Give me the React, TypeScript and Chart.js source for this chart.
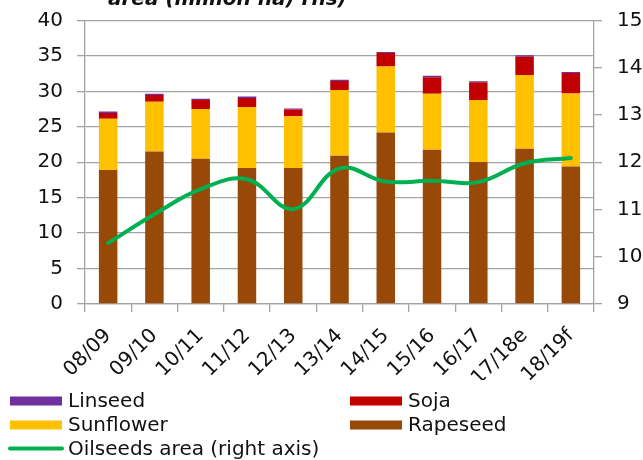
import { useEffect, useRef } from 'react';
import { Chart, registerables } from 'chart.js';

Chart.register(...registerables);

// Marketing years
const seasons = ['08/09', '09/10', '10/11', '11/12', '12/13', '13/14', '14/15', '15/16', '16/17', '17/18e', '18/19f'];

// Oilseed production by crop (million t), stacked bottom to top
const rapeseed = [18.9, 21.5, 20.5, 19.2, 19.2, 20.9, 24.2, 21.75, 20.05, 21.9, 19.4];
const sunflower = [7.25, 7.05, 7.0, 8.6, 7.3, 9.3, 9.3, 7.9, 8.75, 10.4, 10.3];
const soja = [0.8, 0.95, 1.3, 1.27, 0.95, 1.25, 1.9, 2.36, 2.5, 2.6, 2.9];
const linseed = [0.2, 0.18, 0.15, 0.19, 0.14, 0.19, 0.15, 0.18, 0.14, 0.2, 0.15];

// Total oilseeds area (million ha), right axis
const oilseedsArea = [10.29, 10.9, 11.43, 11.64, 11.01, 11.87, 11.59, 11.61, 11.58, 11.98, 12.09];

const titleText = 'area (million ha) rhs)';

const FONT = '"DejaVu Sans", Verdana, sans-serif';
const TEXT = '#111111';
const GRID = '#a3a3a3';

const COLORS = {
  rapeseed: '#984807',
  sunflower: '#ffc000',
  soja: '#c00000',
  linseed: '#7030a0',
  area: '#00b050',
};

// Partially clipped title line at the very top of the canvas
const titlePlugin = {
  id: 'topTitle',
  afterDraw(chart: any) {
    const ctx = chart.ctx;
    ctx.save();
    ctx.font = `italic bold 20px ${FONT}`;
    ctx.fillStyle = TEXT;
    ctx.textAlign = 'left';
    ctx.textBaseline = 'alphabetic';
    ctx.fillText(titleText, 108, 5);
    ctx.restore();
  },
};

// Two-column legend under the x axis
const legendPlugin = {
  id: 'gridLegend',
  afterDraw(chart: any) {
    const ctx = chart.ctx;
    const ds = chart.data.datasets;
    const byLabel = (l: string) => ds.find((d: any) => d.label === l);
    const items = [
      { d: byLabel('Linseed'), x: 10, y: 401, kind: 'box' },
      { d: byLabel('Soja'), x: 350, y: 401, kind: 'box' },
      { d: byLabel('Sunflower'), x: 10, y: 425, kind: 'box' },
      { d: byLabel('Rapeseed'), x: 350, y: 425, kind: 'box' },
      { d: byLabel('Oilseeds area (right axis)'), x: 10, y: 448.5, kind: 'line' },
    ];
    ctx.save();
    ctx.font = `20px ${FONT}`;
    ctx.textAlign = 'left';
    ctx.textBaseline = 'middle';
    for (const it of items) {
      if (!it.d) continue;
      if (it.kind === 'box') {
        ctx.fillStyle = it.d.backgroundColor;
        ctx.fillRect(it.x, it.y - 4.5, 52, 9);
      } else {
        ctx.strokeStyle = it.d.borderColor;
        ctx.lineWidth = 4;
        ctx.lineCap = 'round';
        ctx.beginPath();
        ctx.moveTo(it.x, it.y);
        ctx.lineTo(it.x + 52, it.y);
        ctx.stroke();
      }
      ctx.fillStyle = TEXT;
      ctx.fillText(it.d.label, it.x + 58, it.y + 1);
    }
    ctx.restore();
  },
};

// Fixed axis widths; drop the label overhang so the plot top sits at the padding
const fixWidth = (w: number) => (s: any) => {
  s.width = w;
  s.paddingTop = 0;
  s.paddingBottom = 0;
};

export default function App() {
  const ref = useRef<HTMLCanvasElement | null>(null);

  useEffect(() => {
    if (!ref.current) return;
    const tickFont = { family: FONT, size: 20 };
    const chart = new Chart(ref.current, {
      type: 'bar',
      data: {
        labels: seasons,
        datasets: [
          {
            type: 'line',
            label: 'Oilseeds area (right axis)',
            data: oilseedsArea,
            yAxisID: 'y2',
            borderColor: COLORS.area,
            backgroundColor: COLORS.area,
            borderWidth: 4,
            pointRadius: 0,
            tension: 0.4,
            borderCapStyle: 'round',
            order: 0,
          } as any,
          { label: 'Rapeseed', data: rapeseed, backgroundColor: COLORS.rapeseed, yAxisID: 'y', order: 1 },
          { label: 'Sunflower', data: sunflower, backgroundColor: COLORS.sunflower, yAxisID: 'y', order: 1 },
          { label: 'Soja', data: soja, backgroundColor: COLORS.soja, yAxisID: 'y', order: 1 },
          { label: 'Linseed', data: linseed, backgroundColor: COLORS.linseed, yAxisID: 'y', order: 1 },
        ],
      },
      options: {
        responsive: false,
        animation: false,
        devicePixelRatio: 1,
        layout: { padding: { top: 20.5, left: 0, right: 0, bottom: 80 } },
        datasets: { bar: { categoryPercentage: 1, barPercentage: 0.4 } },
        plugins: {
          legend: { display: false },
          title: { display: false },
          tooltip: { enabled: false },
        },
        scales: {
          x: {
            stacked: true,
            grid: { offset: true, drawOnChartArea: false, drawTicks: true, tickLength: 8, color: GRID, lineWidth: 1.3 },
            border: { color: GRID, width: 1.3 },
            ticks: { minRotation: 45, maxRotation: 45, autoSkip: false, font: tickFont, color: TEXT, padding: 12 },
            afterFit: (s: any) => { s.height = 76; },
          },
          y: {
            stacked: true,
            position: 'left',
            min: 0,
            max: 40,
            ticks: { stepSize: 5, font: tickFont, color: TEXT, padding: 14 },
            grid: { color: GRID, lineWidth: 1.3, tickLength: 8 },
            border: { color: GRID, width: 1.3 },
            afterFit: fixWidth(85),
          },
          y2: {
            position: 'right',
            min: 9,
            max: 15,
            ticks: { stepSize: 1, font: tickFont, color: TEXT, padding: 15 },
            grid: { drawOnChartArea: false, color: GRID, lineWidth: 1.3, tickLength: 8 },
            border: { color: GRID, width: 1.3 },
            afterFit: fixWidth(49),
          },
        },
      } as any,
      plugins: [titlePlugin, legendPlugin],
    });
    return () => chart.destroy();
  }, []);

  return (
    <canvas
      ref={ref}
      width={643}
      height={460}
      style={{ position: 'fixed', left: 0, top: 0, width: 643, height: 460, background: '#ffffff' }}
    />
  );
}
